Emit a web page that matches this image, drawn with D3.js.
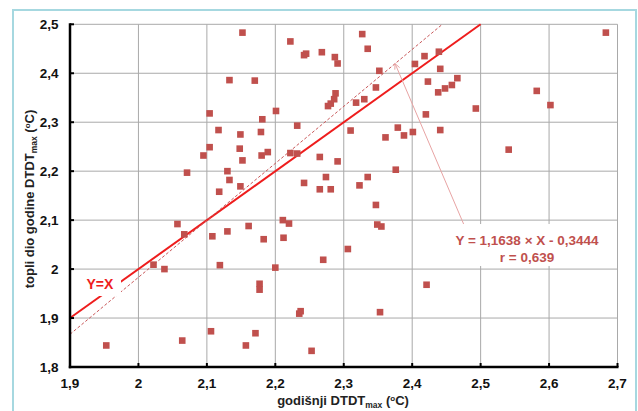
<!DOCTYPE html>
<html>
<head>
<meta charset="utf-8">
<script src="https://cdn.jsdelivr.net/npm/d3@7"></script>
<style>
  body { margin: 0; background: #fff; }
  svg { display: block; font-family: "Liberation Sans", Arial, sans-serif; }
</style>
</head>
<body>
<svg width="638" height="411"></svg>
<script>
// godišnji DTDT_max (x) vs topli dio godine DTDT_max (y)
const godisnji = [
  1.953, 2.022, 2.038, 2.057, 2.064, 2.067, 2.071, 2.095, 2.104, 2.104,
  2.106, 2.108, 2.117, 2.118, 2.119, 2.130, 2.130, 2.133, 2.133, 2.148,
  2.149, 2.149, 2.152, 2.152, 2.157, 2.161, 2.170, 2.171, 2.177, 2.177,
  2.179, 2.180, 2.181, 2.183, 2.189, 2.200, 2.201, 2.211, 2.212, 2.220,
  2.222, 2.222, 2.232, 2.232, 2.235, 2.237, 2.242, 2.245, 2.242, 2.253,
  2.265, 2.265, 2.268, 2.270, 2.274, 2.277, 2.281, 2.281, 2.286, 2.288,
  2.287, 2.291, 2.291, 2.306, 2.310, 2.318, 2.323, 2.327, 2.330, 2.335,
  2.335, 2.347, 2.347, 2.349, 2.352, 2.353, 2.355, 2.361, 2.376, 2.379,
  2.388, 2.401, 2.404, 2.418, 2.420, 2.421, 2.423, 2.438, 2.439, 2.441,
  2.441, 2.448, 2.458, 2.466, 2.493, 2.541, 2.582, 2.602, 2.683
];
const topli = [
  1.844, 2.009, 2.000, 2.092, 1.854, 2.071, 2.197, 2.232, 2.318, 2.249,
  1.873, 2.067, 2.284, 2.158, 2.008, 2.200, 2.077, 2.386, 2.182, 2.246,
  2.275, 2.169, 2.483, 2.222, 1.844, 2.088, 2.385, 1.869, 1.970, 1.958,
  2.280, 2.232, 2.306, 2.061, 2.239, 2.003, 2.323, 2.100, 2.064, 2.093,
  2.465, 2.237, 2.293, 2.236, 1.909, 1.914, 2.437, 2.440, 2.176, 1.833,
  2.229, 2.163, 2.443, 2.019, 2.188, 2.333, 2.338, 2.163, 2.347, 2.359,
  2.433, 2.420, 2.220, 2.041, 2.283, 2.340, 2.171, 2.480, 2.347, 2.450,
  2.188, 2.371, 2.131, 2.091, 2.405, 1.912, 2.087, 2.269, 2.203, 2.289,
  2.273, 2.280, 2.419, 2.435, 2.316, 1.968, 2.383, 2.361, 2.444, 2.409,
  2.284, 2.369, 2.376, 2.390, 2.328, 2.244, 2.364, 2.335, 2.483
];

const xTicks = [1.9, 2.0, 2.1, 2.2, 2.3, 2.4, 2.5, 2.6, 2.7];
const yTicks = [1.8, 1.9, 2.0, 2.1, 2.2, 2.3, 2.4, 2.5];

// regression Y = a*X + b
const slope = 1.1638;
const intercept = -0.3444;
const rValue = "0,639";

const svg = d3.select("svg");

// light blue frame round the whole picture
svg.append("rect")
  .attr("x", 13).attr("y", 10)
  .attr("width", 623).attr("height", 420)
  .attr("fill", "none")
  .attr("stroke", "#a6d8e0")
  .attr("stroke-width", 2);

const pLeft = 70, pRight = 617.5, pTop = 24.3, pBottom = 367;
const x = d3.scaleLinear().domain([1.9, 2.7]).range([pLeft, pRight]);
const y = d3.scaleLinear().domain([1.8, 2.5]).range([pBottom, pTop]);
const fmt = (v) => (Math.round(v * 10) / 10).toString().replace(".", ",");

const g = svg.append("g");

// grid lines
g.selectAll(".vgrid").data(xTicks.slice(1)).enter().append("line")
  .attr("x1", (d) => x(d)).attr("x2", (d) => x(d))
  .attr("y1", pTop).attr("y2", pBottom)
  .attr("stroke", "#a9a9a9").attr("stroke-width", 1);
g.selectAll(".hgrid").data(yTicks.slice(1)).enter().append("line")
  .attr("x1", pLeft).attr("x2", pRight)
  .attr("y1", (d) => y(d)).attr("y2", (d) => y(d))
  .attr("stroke", "#a9a9a9").attr("stroke-width", 1);

// Y = X line
g.append("line")
  .attr("x1", x(1.9)).attr("y1", y(1.9))
  .attr("x2", x(2.5)).attr("y2", y(2.5))
  .attr("stroke", "#ee1d1d").attr("stroke-width", 2);

// regression line (dashed)
const xEnd = (2.5 - intercept) / slope;
g.append("line")
  .attr("x1", x(1.9)).attr("y1", y(slope * 1.9 + intercept))
  .attr("x2", x(xEnd)).attr("y2", y(2.5))
  .attr("stroke", "#c9585a").attr("stroke-width", 1)
  .attr("stroke-dasharray", "3,2");

// points
g.selectAll(".pt").data(godisnji).enter().append("rect")
  .attr("x", (d) => x(d) - 3.3)
  .attr("y", (d, i) => y(topli[i]) - 3.3)
  .attr("width", 6.6).attr("height", 6.6)
  .attr("fill", "#c0504d");

// Y=X label with white box
g.append("rect")
  .attr("x", 83).attr("y", 274)
  .attr("width", 38).attr("height", 22)
  .attr("fill", "#fff");
g.append("text")
  .attr("x", x(1.924)).attr("y", y(1.96))
  .attr("fill", "#ee1d1d")
  .style("font-size", "14px").style("font-weight", "bold")
  .text("Y=X");

// arrow from equation to the regression line
const tipX = 2.375, tailX = 2.481, tailY = 2.073;
const tip = [x(tipX), y(slope * tipX + intercept)];
const tail = [x(tailX), y(tailY)];
const ang = Math.atan2(tail[1] - tip[1], tail[0] - tip[0]);
g.append("line")
  .attr("x1", tail[0]).attr("y1", tail[1])
  .attr("x2", tip[0]).attr("y2", tip[1])
  .attr("stroke", "#e8a4a4").attr("stroke-width", 1);
g.append("polyline")
  .attr("points", [
    [tip[0] + 6 * Math.cos(ang - 0.45), tip[1] + 6 * Math.sin(ang - 0.45)],
    tip,
    [tip[0] + 6 * Math.cos(ang + 0.45), tip[1] + 6 * Math.sin(ang + 0.45)]
  ].map((p) => p.join(",")).join(" "))
  .attr("fill", "none").attr("stroke", "#e8a4a4").attr("stroke-width", 1);

// equation box
g.append("rect")
  .attr("x", 452).attr("y", 224)
  .attr("width", 150).attr("height", 42)
  .attr("fill", "#fff");
const eq = g.append("text")
  .attr("text-anchor", "middle")
  .attr("fill", "#c0504d")
  .style("font-size", "13.5px").style("font-weight", "bold");
eq.append("tspan").attr("x", 527).attr("y", 245)
  .text("Y = " + String(slope).replace(".", ",") + " × X - " + String(-intercept).replace(".", ","));
eq.append("tspan").attr("x", 527).attr("y", 261.5)
  .text("r = " + rValue);

// axes
g.append("line").attr("x1", pLeft).attr("x2", pLeft)
  .attr("y1", pTop - 1).attr("y2", pBottom + 1.2)
  .attr("stroke", "#000").attr("stroke-width", 2.5);
g.append("line").attr("x1", pLeft - 1.2).attr("x2", pRight + 1)
  .attr("y1", pBottom).attr("y2", pBottom)
  .attr("stroke", "#000").attr("stroke-width", 2.5);

// inward tick marks
g.selectAll(".xtick").data(xTicks).enter().append("line")
  .attr("x1", (d) => x(d)).attr("x2", (d) => x(d))
  .attr("y1", pBottom).attr("y2", pBottom - 4)
  .attr("stroke", "#000").attr("stroke-width", 2);
g.selectAll(".ytick").data(yTicks).enter().append("line")
  .attr("x1", pLeft).attr("x2", pLeft + 4)
  .attr("y1", (d) => y(d)).attr("y2", (d) => y(d))
  .attr("stroke", "#000").attr("stroke-width", 2);

// tick labels
g.selectAll(".xlab").data(xTicks).enter().append("text")
  .attr("x", (d) => x(d)).attr("y", 388)
  .attr("text-anchor", "middle")
  .style("font-size", "13.5px").style("font-weight", "bold")
  .attr("fill", "#111")
  .text(fmt);
g.selectAll(".ylab").data(yTicks).enter().append("text")
  .attr("x", 58.5).attr("y", (d) => y(d) + 5)
  .attr("text-anchor", "end")
  .style("font-size", "13.5px").style("font-weight", "bold")
  .attr("fill", "#111")
  .text(fmt);

// axis titles
function title(sel, before) {
  sel.append("tspan").text(before);
  sel.append("tspan").attr("font-size", "8.5px").attr("dy", 3).text("max");
  sel.append("tspan").attr("dy", -3).text(" (");
  sel.append("tspan").attr("font-size", "8px").attr("dy", -4).text("o");
  sel.append("tspan").attr("dy", 4).text("C)");
}
const xt = svg.append("text")
  .attr("x", 343).attr("y", 405)
  .attr("text-anchor", "middle")
  .style("font-size", "13px").style("font-weight", "bold")
  .attr("fill", "#222");
title(xt, "godišnji  DTDT");
const yt = svg.append("text")
  .attr("transform", "translate(34,199) rotate(-90)")
  .attr("text-anchor", "middle")
  .style("font-size", "13px").style("font-weight", "bold")
  .attr("fill", "#222");
title(yt, "topli dio godine DTDT");
</script>
</body>
</html>
